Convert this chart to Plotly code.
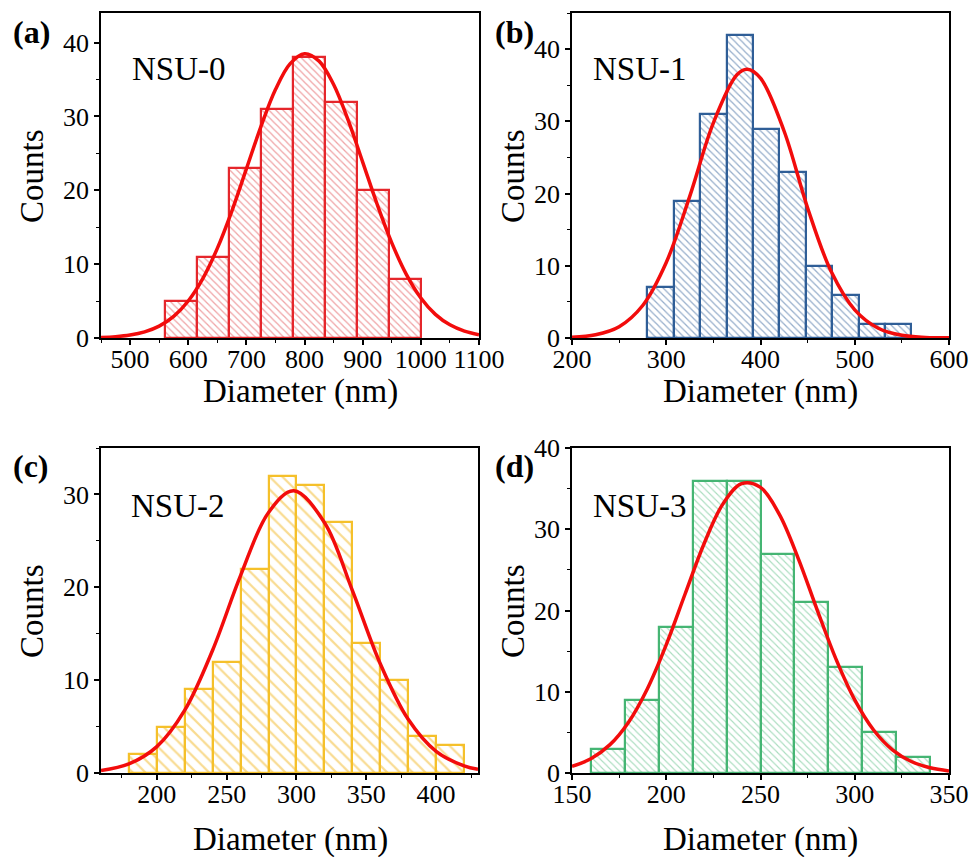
import plotly.graph_objects as go

# ---------------- data ----------------
# panel (a) NSU-0
a_bin_start = 560
a_bin_width = 55
a_counts = [5, 11, 23, 31, 38, 32, 20, 8]
a_fit_x = [450, 475, 500, 525, 550, 575, 600, 625, 650, 675, 700, 725, 750, 775, 800,
           825, 850, 875, 900, 925, 950, 975, 1000, 1025, 1050, 1075, 1100]
a_fit_y = [0.08, 0.18, 0.40, 0.83, 1.61, 2.93, 5.01, 8.04, 12.13, 17.19, 22.89, 28.62, 33.63,
           37.12, 38.49, 37.49, 34.31, 29.49, 23.82, 18.07, 12.88, 8.62, 5.42, 3.20, 1.78, 0.93, 0.45]

# panel (b) NSU-1
b_bin_start = 280
b_bin_width = 28
b_counts = [7, 19, 31, 42, 29, 23, 10, 6, 2, 2]
b_fit_x = [200, 225, 250, 275, 300, 325, 350, 375, 386, 400, 425, 450, 475, 500, 525, 550, 575, 600]
b_fit_y = [0.10, 0.44, 1.56, 4.50, 10.46, 19.65, 29.79, 36.44, 37.20, 35.97, 28.66, 18.00,
           9.20, 3.90, 1.35, 0.37, 0.08, 0.02]

# panel (c) NSU-2
c_bin_start = 180
c_bin_width = 20
c_counts = [2, 5, 9, 12, 22, 32, 31, 27, 14, 10, 4, 3]
c_fit_x = [160, 180, 200, 220, 240, 260, 280, 298, 320, 340, 360, 380, 400, 420, 430]
c_fit_y = [0.28, 0.98, 2.84, 6.77, 13.25, 21.28, 28.06, 30.40, 26.98, 19.67, 11.77, 5.78,
           2.33, 0.77, 0.41]

# panel (d) NSU-3
d_bin_start = 160
d_bin_width = 18
d_counts = [3, 9, 18, 36, 36, 27, 21, 13, 5, 2]
d_fit_x = [150, 160, 170, 180, 190, 200, 210, 220, 230, 240, 250, 260, 270, 280, 290,
           300, 310, 320, 330, 340, 350]
d_fit_y = [0.82, 1.76, 3.46, 6.26, 10.38, 15.79, 22.03, 28.19, 33.09, 35.61, 35.15, 31.82,
           26.42, 20.12, 14.05, 9.00, 5.29, 2.85, 1.41, 0.64, 0.26]

sample_names = ["NSU-0", "NSU-1", "NSU-2", "NSU-3"]
panel_tags = ["(a)", "(b)", "(c)", "(d)"]
x_title = "Diameter (nm)"
y_title = "Counts"

# ---------------- styling ----------------
W, H = 971, 857
FONT = "Liberation Serif, Times New Roman, serif"
FIT_COLOR = "#F20C0C"

panels = [
    dict(start=a_bin_start, width=a_bin_width, counts=a_counts, fx=a_fit_x, fy=a_fit_y,
         edge="#E5262B", hatch="#E0474C", hsize=5, hsol=0.25,
         box=(101, 479, 13, 338), xr=[450, 1100], yr=[0, 44], xd=100, xm=50),
    dict(start=b_bin_start, width=b_bin_width, counts=b_counts, fx=b_fit_x, fy=b_fit_y,
         edge="#2F5E97", hatch="#2F5E97", hsize=5, hsol=0.25,
         box=(572, 949, 13, 338), xr=[200, 600], yr=[0, 45], xd=100, xm=50),
    dict(start=c_bin_start, width=c_bin_width, counts=c_counts, fx=c_fit_x, fy=c_fit_y,
         edge="#F5C02A", hatch="#F2B824", hsize=9, hsol=0.25,
         box=(101, 478, 448, 773), xr=[160, 430], yr=[0, 35], xd=50, xm=25),
    dict(start=d_bin_start, width=d_bin_width, counts=d_counts, fx=d_fit_x, fy=d_fit_y,
         edge="#45B573", hatch="#55BB80", hsize=5, hsol=0.22,
         box=(572, 949, 448, 773), xr=[150, 350], yr=[0, 40], xd=50, xm=25),
]

fig = go.Figure()
annotations = []

for i, p in enumerate(panels):
    n = i + 1
    xa = "x" if n == 1 else f"x{n}"
    ya = "y" if n == 1 else f"y{n}"
    centers = [p["start"] + p["width"] * (k + 0.5) for k in range(len(p["counts"]))]
    fig.add_trace(go.Bar(
        x=centers, y=p["counts"], width=[p["width"]] * len(centers),
        marker=dict(color="white",
                    line=dict(color=p["edge"], width=2.2),
                    pattern=dict(shape="\\", fgcolor=p["hatch"], bgcolor="white",
                                 size=p["hsize"], solidity=p["hsol"])),
        xaxis=xa, yaxis=ya, showlegend=False))
    fig.add_trace(go.Scatter(
        x=p["fx"], y=p["fy"], mode="lines",
        line=dict(color=FIT_COLOR, width=3.5, shape="spline", smoothing=1.0),
        xaxis=xa, yaxis=ya, showlegend=False, cliponaxis=True))

    x0, x1, y0, y1 = p["box"]
    xdom = [x0 / W, x1 / W]
    ydom = [1 - y1 / H, 1 - y0 / H]
    common = dict(showline=True, linecolor="black", linewidth=1.5, mirror=True,
                  ticks="outside", ticklen=5, tickwidth=1.5, tickcolor="black",
                  showgrid=False, zeroline=False, automargin=False,
                  tickfont=dict(family=FONT, size=26, color="black"))
    fig.layout[("xaxis" if n == 1 else f"xaxis{n}")] = dict(
        domain=xdom, range=p["xr"], dtick=p["xd"], tick0=0, anchor=ya,
        ticklabelstandoff=-8,
        minor=dict(dtick=p["xm"], tick0=0, ticks="outside", ticklen=3, tickcolor="black", tickwidth=1.2),
        **common)
    fig.layout[("yaxis" if n == 1 else f"yaxis{n}")] = dict(
        domain=ydom, range=p["yr"], dtick=10, tick0=0, anchor=xa,
        minor=dict(dtick=5, tick0=0, ticks="outside", ticklen=3, tickcolor="black", tickwidth=1.2),
        **common)

# text positions (pixels)
ytitle_pos = [(32, 176), (513, 176), (32, 611), (513, 611)]
xtitle_pos = [(300, 391), (760, 391), (290, 839), (760, 839)]
tag_pos = [(31, 32), (514, 32), (31, 466), (514, 466)]
name_pos = [(130, 69), (591, 69), (129, 506), (591, 506)]

for i in range(4):
    annotations.append(dict(text=y_title, x=ytitle_pos[i][0] / W, y=1 - ytitle_pos[i][1] / H,
                            xref="paper", yref="paper", showarrow=False, textangle=-90,
                            xanchor="center", yanchor="middle",
                            font=dict(family=FONT, size=33, color="black")))
    annotations.append(dict(text=x_title, x=xtitle_pos[i][0] / W, y=1 - xtitle_pos[i][1] / H,
                            xref="paper", yref="paper", showarrow=False,
                            xanchor="center", yanchor="middle",
                            font=dict(family=FONT, size=33, color="black")))
    annotations.append(dict(text="<b>" + panel_tags[i] + "</b>", x=tag_pos[i][0] / W,
                            y=1 - tag_pos[i][1] / H, xref="paper", yref="paper",
                            showarrow=False, xanchor="center", yanchor="middle",
                            font=dict(family=FONT, size=32, color="black")))
    annotations.append(dict(text=sample_names[i], x=name_pos[i][0] / W, y=1 - name_pos[i][1] / H,
                            xref="paper", yref="paper", showarrow=False,
                            xanchor="left", yanchor="middle",
                            font=dict(family=FONT, size=33, color="black")))

fig.update_layout(width=W, height=H, margin=dict(l=0, r=0, t=0, b=0, autoexpand=False),
                  paper_bgcolor="white", plot_bgcolor="white",
                  bargap=0, annotations=annotations, showlegend=False)

fig.write_html("out.html")
